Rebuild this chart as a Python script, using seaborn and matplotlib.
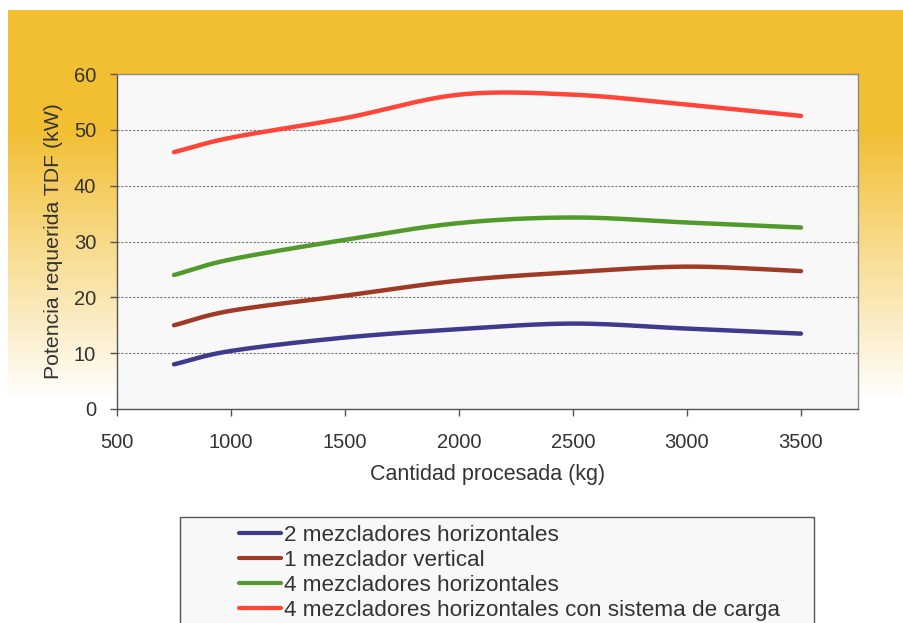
import numpy as np
import pandas as pd
import matplotlib
matplotlib.use('Agg')
import matplotlib.pyplot as plt
import seaborn as sns
from matplotlib.lines import Line2D
from matplotlib.patches import Rectangle

# data
cantidad = [750, 1000, 1500, 2000, 2500, 3000, 3500]
dos_horiz = [8.0, 10.4, 12.8, 14.3, 15.3, 14.4, 13.5]
uno_vert = [15.0, 17.6, 20.3, 23.0, 24.5, 25.5, 24.7]
cuatro_horiz = [24.0, 26.8, 30.3, 33.3, 34.3, 33.4, 32.5]
cuatro_carga = [46.0, 48.6, 52.1, 56.3, 56.3, 54.5, 52.5]

series = ['2 mezcladores horizontales', '1 mezclador vertical',
          '4 mezcladores horizontales',
          '4 mezcladores horizontales con sistema de carga']
colores = ['#3E3A8E', '#A03A26', '#529A2C', '#FF4438']


def suavizar(x, y, n=30):
    # Catmull-Rom smoothing, like Excel's "smoothed line"
    x = np.asarray(x, float)
    y = np.asarray(y, float)
    px = np.concatenate([[2 * x[0] - x[1]], x, [2 * x[-1] - x[-2]]])
    py = np.concatenate([[2 * y[0] - y[1]], y, [2 * y[-1] - y[-2]]])
    xs, ys = [], []
    t = np.linspace(0, 1, n, endpoint=False)
    for i in range(1, len(px) - 2):
        for p, out in ((px, xs), (py, ys)):
            p0, p1, p2, p3 = p[i - 1], p[i], p[i + 1], p[i + 2]
            out.extend(0.5 * (2 * p1 + (-p0 + p2) * t +
                              (2 * p0 - 5 * p1 + 4 * p2 - p3) * t ** 2 +
                              (-p0 + 3 * p1 - 3 * p2 + p3) * t ** 3))
    xs.append(x[-1])
    ys.append(y[-1])
    return xs, ys


frames = []
for nombre, vals in zip(series, [dos_horiz, uno_vert, cuatro_horiz, cuatro_carga]):
    xs, ys = suavizar(cantidad, vals)
    frames.append(pd.DataFrame({'x': xs, 'y': ys, 'serie': nombre}))
df = pd.concat(frames, ignore_index=True)

sns.set_style('white')
plt.rcParams['font.family'] = ['Liberation Sans', 'DejaVu Sans']

fig = plt.figure(figsize=(9.04, 6.23), dpi=100)

# gold gradient background
H, W = 623, 904
yy, xx = np.mgrid[0:H, 0:W]
alpha = np.clip((400 - yy) / 270.0, 0, 1)
alpha[yy < 10] = 0
alpha[:, :8] = 0
img = np.zeros((H, W, 4))
img[..., 0] = 0xF2 / 255
img[..., 1] = 0xBF / 255
img[..., 2] = 0x33 / 255
img[..., 3] = alpha
bg = fig.add_axes([0, 0, 1, 1], zorder=-5)
bg.imshow(img, aspect='auto', extent=(0, 1, 0, 1))
bg.axis('off')

ax = fig.add_axes([117 / 904, 1 - 409 / 623, (858 - 117) / 904, (409 - 74) / 623])
sns.lineplot(data=df, x='x', y='y', hue='serie', palette=colores,
             hue_order=series, sort=False, estimator=None, linewidth=3.2,
             legend=False, ax=ax)

ax.set_facecolor('#F8F8F8')
ax.set_xlim(500, 3750)
ax.set_ylim(0, 60)
ax.set_xticks(range(500, 4000, 500))
ax.set_yticks(range(0, 70, 10))
ax.grid(axis='y', linestyle=(0, (2, 1.5)), color='#777777', linewidth=0.8)
for s in ax.spines.values():
    s.set_color('#8A8A8A')
    s.set_linewidth(1)
ax.spines['left'].set_color('#555555')
ax.spines['bottom'].set_color('#555555')
ax.tick_params(axis='both', direction='out', length=5, width=1, color='#555555',
               labelsize=14.5, labelcolor='#333333', bottom=True, left=True)
ax.tick_params(axis='x', pad=12)
ax.tick_params(axis='y', pad=10)
ax.set_xlabel('Cantidad procesada (kg)', fontsize=15.5, color='#333333', labelpad=9)
ax.set_ylabel('Potencia requerida TDF (kW)', fontsize=15.3, color='#333333', labelpad=8)

# legend box
fig.patches.append(Rectangle((180 / 904, -0.01), (814 - 180) / 904, 0.01 + (623 - 517) / 623,
                             transform=fig.transFigure, facecolor='#F8F8F8',
                             edgecolor='#555555', linewidth=1, zorder=1))
handles = [Line2D([], [], color=c, linewidth=3) for c in colores]
leg = fig.legend(handles, series, loc='upper left',
                 bbox_to_anchor=(228 / 904, 1 - 514 / 623), frameon=False,
                 fontsize=16.2, handlelength=1.86, handletextpad=0.13,
                 labelspacing=0.17, borderpad=0, labelcolor='#333333')
leg.set_zorder(2)

fig.savefig('out.png', dpi=100)
